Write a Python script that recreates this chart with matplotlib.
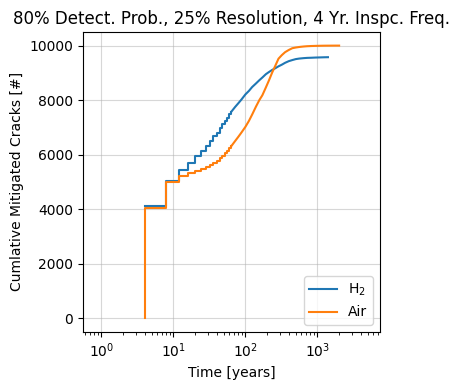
import matplotlib
matplotlib.use("Agg")
from matplotlib import pyplot as plt

# inspection times [years] (every 4 yrs early on, then sampled)
h2_years = [4, 8, 12, 16, 20, 24, 28, 32, 36, 40, 44, 48, 52, 56, 60, 64,
            72, 80, 88, 100, 112, 124, 140, 156, 172, 192, 212, 236, 260,
            288, 320, 356, 400, 448, 500, 560, 640, 720, 820, 940, 1080,
            1240, 1400]
h2_cracks = [4110, 5030, 5430, 5700, 5940, 6150, 6330, 6510, 6670, 6810,
             6960, 7120, 7220, 7330, 7480, 7580, 7750, 7890, 8020, 8210,
             8340, 8480, 8610, 8730, 8830, 8950, 9030, 9110, 9170, 9240,
             9300, 9370, 9430, 9470, 9505, 9525, 9540, 9550, 9555, 9562,
             9567, 9572, 9575]

air_years = [4, 8, 12, 16, 20, 24, 28, 32, 36, 40, 44, 48, 52, 56, 60, 64,
             72, 80, 88, 100, 112, 124, 140, 156, 172, 192, 212, 236, 260,
             288, 320, 356, 400, 448, 500, 560, 640, 720, 820, 940, 1080,
             1240, 1400, 1600, 1800, 2000]
air_cracks = [4040, 4990, 5220, 5340, 5415, 5490, 5560, 5625, 5710, 5780,
              5860, 5950, 6050, 6140, 6230, 6320, 6500, 6660, 6810, 7020,
              7240, 7470, 7760, 8000, 8180, 8460, 8720, 9020, 9260, 9520,
              9650, 9760, 9840, 9905, 9930, 9950, 9967, 9978, 9985, 9990,
              9994, 9997, 9998, 9999, 10000, 10000]

# past this index the 4-yr steps are too small to see on a log axis
n_step = 15

fig, ax = plt.subplots(figsize=(4.6, 3.9), dpi=100)
fig.subplots_adjust(left=0.18, right=0.826, bottom=0.149, top=0.918)

ax.step(h2_years[:n_step + 1], h2_cracks[:n_step + 1], where='post',
        color='C0', label='H$_2$')
ax.plot(h2_years[n_step:], h2_cracks[n_step:], color='C0')

# air curve starts from zero at the first inspection
ax.step([air_years[0]] + air_years[:n_step + 1],
        [0] + air_cracks[:n_step + 1], where='post', color='C1', label='Air')
ax.plot(air_years[n_step:], air_cracks[n_step:], color='C1')

ax.set_xscale('log')
ax.set_xlim(0.553, 7380)
ax.set_xlabel('Time [years]')
ax.set_ylabel('Cumlative Mitigated Cracks [#]')
ax.set_title('80% Detect. Prob., 25% Resolution, 4 Yr. Inspc. Freq.')
ax.grid(alpha=0.5)
ax.legend(loc='lower right')

fig.savefig('out.png')
